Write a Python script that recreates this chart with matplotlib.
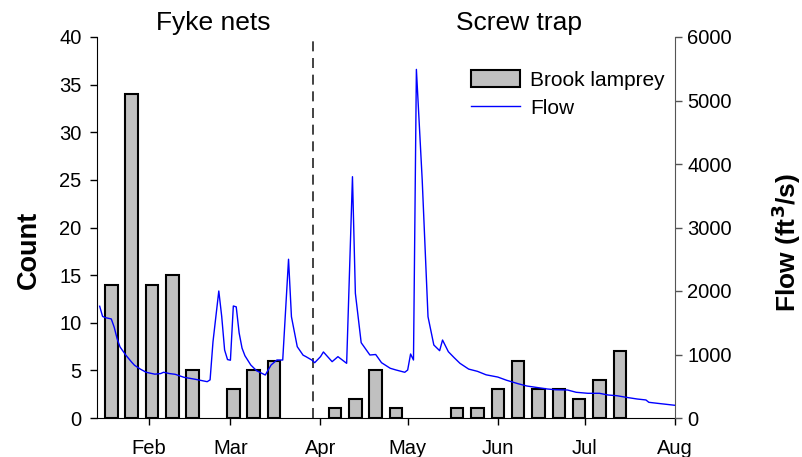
import matplotlib
matplotlib.use("Agg")
import matplotlib.pyplot as plt
import numpy as np
import pandas as pd

plt.rcParams['font.family'] = ['Liberation Sans', 'DejaVu Sans']

# Weekly brook lamprey counts (bar centre dates)
week_dates = ["2011-01-19", "2011-01-26", "2011-02-02", "2011-02-09", "2011-02-16",
              "2011-02-23", "2011-03-02", "2011-03-09", "2011-03-16", "2011-03-23",
              "2011-03-30", "2011-04-06", "2011-04-13", "2011-04-20", "2011-04-27",
              "2011-05-04", "2011-05-11", "2011-05-18", "2011-05-25", "2011-06-01",
              "2011-06-08", "2011-06-15", "2011-06-22", "2011-06-29", "2011-07-06",
              "2011-07-13"]
counts = [14, 34, 14, 15, 5, 0, 3, 5, 6, 0, 0, 1, 2, 5, 1, 0, 0, 1, 1, 3, 6, 3, 3, 2, 4, 7]

# Flow readings (ft3/s)
flow_dates = ["2011-01-15", "2011-01-16", "2011-01-17", "2011-01-19", "2011-01-20",
              "2011-01-21", "2011-01-22", "2011-01-24", "2011-01-26", "2011-01-27",
              "2011-01-29", "2011-01-31", "2011-02-03", "2011-02-05", "2011-02-06",
              "2011-02-08", "2011-02-10", "2011-02-13", "2011-02-17", "2011-02-21",
              "2011-02-22", "2011-02-23", "2011-02-25", "2011-02-26", "2011-02-27",
              "2011-02-28", "2011-03-01", "2011-03-02", "2011-03-03", "2011-03-04",
              "2011-03-05", "2011-03-06", "2011-03-08", "2011-03-10", "2011-03-13",
              "2011-03-15", "2011-03-17", "2011-03-19", "2011-03-21", "2011-03-22",
              "2011-03-24", "2011-03-26", "2011-03-27", "2011-03-29", "2011-03-30",
              "2011-04-01", "2011-04-02", "2011-04-05", "2011-04-07", "2011-04-10",
              "2011-04-12", "2011-04-13", "2011-04-15", "2011-04-18", "2011-04-20",
              "2011-04-22", "2011-04-25", "2011-04-27", "2011-04-30", "2011-05-01",
              "2011-05-02", "2011-05-03", "2011-05-04", "2011-05-06", "2011-05-08",
              "2011-05-10", "2011-05-12", "2011-05-13", "2011-05-15", "2011-05-17",
              "2011-05-19", "2011-05-22", "2011-05-25", "2011-05-28", "2011-06-01",
              "2011-06-04", "2011-06-08", "2011-06-11", "2011-06-15", "2011-06-18",
              "2011-06-21", "2011-06-25", "2011-06-28", "2011-07-02", "2011-07-06",
              "2011-07-09", "2011-07-12", "2011-07-16", "2011-07-19", "2011-07-22",
              "2011-07-23", "2011-07-26", "2011-08-01"]
flow = [1760, 1600, 1580, 1560, 1430,
        1250, 1120, 990, 880, 830,
        770, 720, 690, 700, 720,
        700, 688, 641, 609, 572,
        600, 1200, 2000, 1600, 1071,
        920, 910, 1764, 1750, 1339,
        1100, 980, 835, 745, 677,
        835, 913, 913, 2500, 1595,
        1123, 990, 966, 913, 871,
        966, 1040, 887, 966, 861,
        3800, 1964, 1186, 992, 1000,
        871, 783, 756, 720, 756,
        1008, 913, 5490, 3750, 1595,
        1150, 1060, 1228, 1044, 950,
        861, 770, 735, 680, 645,
        595, 540, 504, 477, 457,
        445, 441, 405, 389, 389,
        362, 351, 320, 299, 284,
        247, 231, 200]

month_ticks = ["2011-02-01", "2011-03-01", "2011-04-01", "2011-05-01",
               "2011-06-01", "2011-07-01", "2011-08-01"]
month_labels = ["Feb", "Mar", "Apr", "May", "Jun", "Jul", "Aug"]
divider_date = "2011-03-29 12:00"

wd = pd.to_datetime(week_dates)
fd = pd.to_datetime(flow_dates)
cnt = np.array(counts)
nz = cnt > 0

W, H = 802, 457
fig = plt.figure(figsize=(W / 100, H / 100), dpi=100)
ax = fig.add_axes([97 / W, 1 - 418 / H, (675 - 97) / W, (418 - 37) / H])
ax2 = ax.twinx()

bars = ax.bar(wd[nz], cnt[nz], width=4.3, color="#c0c0c0", edgecolor="black",
              linewidth=1.5, label="Brook lamprey", zorder=2)
line, = ax2.plot(fd, flow, color="#0000ff", linewidth=1.0, label="Flow", zorder=3)

ax.axvline(pd.Timestamp(divider_date), color="#222222", linewidth=1.2,
           linestyle=(0, (6, 4)), zorder=1)

ax.set_xlim(pd.Timestamp("2011-01-14 02:00"), pd.Timestamp("2011-08-01"))
ax.set_ylim(0, 40)
ax2.set_ylim(0, 6000)
ax.set_yticks(np.arange(0, 41, 5))
ax2.set_yticks(np.arange(0, 6001, 1000))
ax.set_xticks(pd.to_datetime(month_ticks))
ax.set_xticklabels(month_labels)

for a in (ax, ax2):
    a.spines['top'].set_visible(False)
    a.tick_params(direction='out', length=5, labelsize=14.5, width=1)
ax.spines['right'].set_visible(False)
ax2.spines['left'].set_visible(False)
ax2.spines['bottom'].set_visible(False)
ax2.spines['right'].set_color('#555555')
ax2.tick_params(axis='y', colors='#555555', labelcolor='black', pad=4)
ax.tick_params(axis='x', pad=10)
ax.tick_params(axis='y', pad=6)

fig.text(29 / W, 1 - 250 / H, "Count", fontsize=19.5, fontweight='bold',
         rotation=90, ha='center', va='center')
fig.text(786 / W, 1 - 242 / H, "Flow (ft$^{\\mathbf{3}}$/s)", fontsize=19,
         fontweight='bold', rotation=90, ha='center', va='center')

fig.text(213 / W, 1 - 23 / H, "Fyke nets", fontsize=19, ha='center', va='center')
fig.text(519 / W, 1 - 23 / H, "Screw trap", fontsize=19, ha='center', va='center')

ax2.legend([bars, line], ["Brook lamprey", "Flow"], loc='upper left',
           bbox_to_anchor=(471 / W, 1 - 70 / H), bbox_transform=fig.transFigure,
           frameon=False, fontsize=15, handlelength=2.35, handleheight=0.9,
           borderaxespad=0, borderpad=0, labelspacing=0.4, handletextpad=0.5)

fig.savefig("out.png", dpi=100)
